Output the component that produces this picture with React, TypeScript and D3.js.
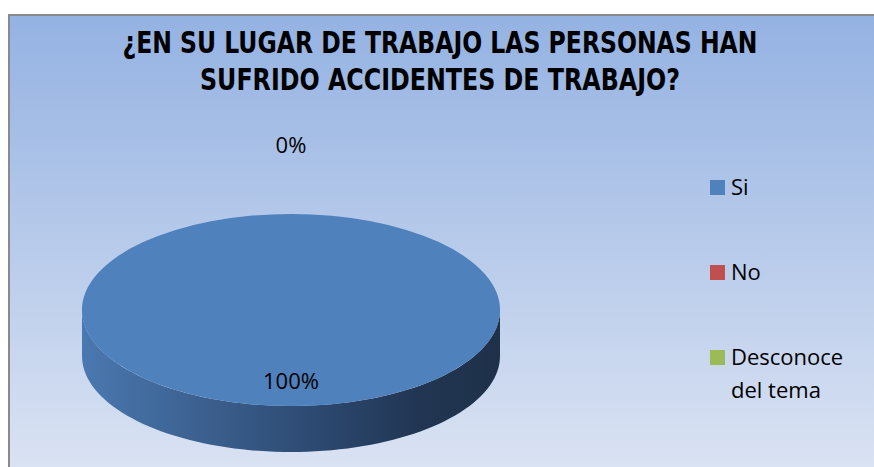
import React from "react";
import * as d3 from "d3";

const categories = ["Si", "No", "Desconoce del tema"];
const values = [100, 0, 0];
const colors = ["#4f81bd", "#c0504d", "#9bbb59"];
const titleLines = ["¿EN SU LUGAR DE TRABAJO LAS PERSONAS HAN", "SUFRIDO ACCIDENTES DE TRABAJO?"];
const legendLines = [["Si"], ["No"], ["Desconoce", "del tema"]];

const W = 874;
const H = 467;

export default function App() {
  const cx = 291;
  const cy = 310;
  const rx = 209;
  const ry = 96;
  const depth = 46;

  const pie = d3.pie<number>().sort(null).value((d) => d);
  const arcs = pie(values);
  const total = d3.sum(values);
  const fmt = d3.format(".0%");

  const arcGen = d3.arc<any>().innerRadius(0).outerRadius(rx);

  const pt = (a: number, dy = 0) => [cx + rx * Math.sin(a), cy - ry * Math.cos(a) + dy];
  const sidePath = (a0: number, a1: number) => {
    const s = Math.max(a0, Math.PI / 2);
    const e = Math.min(a1, (3 * Math.PI) / 2);
    if (e <= s) return null;
    const steps = 80;
    const p = d3.path();
    const top = d3.range(steps + 1).map((i) => pt(s + ((e - s) * i) / steps));
    const bot = top.map((_, i) => pt(s + ((e - s) * i) / steps, depth));
    p.moveTo(top[0][0], top[0][1]);
    top.forEach(([x, y]) => p.lineTo(x, y));
    for (let i = bot.length - 1; i >= 0; i--) p.lineTo(bot[i][0], bot[i][1]);
    p.closePath();
    return p.toString();
  };

  const labelPos = (a: any) => {
    const mid = (a.startAngle + a.endAngle) / 2;
    const zero = a.endAngle - a.startAngle === 0;
    const k = zero ? 1.7 : 0.76;
    return [cx + rx * k * Math.sin(mid), cy - ry * k * Math.cos(mid)];
  };

  const seenLabels = new Set<string>();

  return (
    <svg
      width={W}
      height={H}
      style={{ position: "absolute", left: 0, top: 0 }}
      fontFamily="'Open Sans', 'DejaVu Sans', sans-serif"
    >
      <defs>
        <linearGradient id="bg" x1="0" y1="0" x2="0" y2="1">
          <stop offset="0" stopColor="#94b2e2" />
          <stop offset="1" stopColor="#dfe6f4" />
        </linearGradient>
        <linearGradient id="side" x1={cx - rx} x2={cx + rx} y1="0" y2="0" gradientUnits="userSpaceOnUse">
          <stop offset="0" stopColor="#4a78b0" />
          <stop offset="0.3" stopColor="#3b5f8e" />
          <stop offset="0.55" stopColor="#2d4a72" />
          <stop offset="0.8" stopColor="#213653" />
          <stop offset="1" stopColor="#1f3149" />
        </linearGradient>
      </defs>
      <rect x={0} y={0} width={W} height={H} fill="#ffffff" />
      <rect x={9} y={15} width={W + 20} height={H + 20} fill="url(#bg)" stroke="#8a8a8a" strokeWidth={2} />

      {titleLines.map((t, i) => (
        <text
          key={i}
          x={440}
          y={53 + i * 37}
          textAnchor="middle"
          fontWeight="bold"
          fontSize={30}
          fontFamily="'Liberation Sans Narrow', 'DejaVu Sans Condensed', 'Open Sans', sans-serif"
          textLength={i === 0 ? 635 : 480}
          lengthAdjust="spacingAndGlyphs"
          fill="#000"
        >
          {t}
        </text>
      ))}

      {arcs.map((a, i) => {
        const d = sidePath(a.startAngle, a.endAngle);
        return d ? <path key={"s" + i} d={d} fill="url(#side)" /> : null;
      })}
      <g transform={`translate(${cx},${cy}) scale(1,${ry / rx})`}>
        {arcs.map((a, i) =>
          a.endAngle - a.startAngle > 0 ? <path key={"t" + i} d={arcGen(a) as string} fill={colors[i]} /> : null
        )}
      </g>

      {arcs.map((a, i) => {
        const txt = fmt(a.data / total);
        const [x, y] = labelPos(a);
        const key = `${txt}@${Math.round(x)},${Math.round(y)}`;
        if (seenLabels.has(key)) return null;
        seenLabels.add(key);
        return (
          <text key={"l" + i} x={x} y={y} textAnchor="middle" dominantBaseline="middle" fontSize={22} fill="#000">
            {txt}
          </text>
        );
      })}

      {categories.map((c, i) => {
        const sy = [180, 265, 350][i];
        return (
          <g key={c}>
            <rect x={710} y={sy} width={15} height={15} fill={colors[i]} />
            {legendLines[i].map((l, j) => (
              <text key={j} x={731} y={sy + 15 + j * 33} fontSize={22} fill="#000">
                {l}
              </text>
            ))}
          </g>
        );
      })}
    </svg>
  );
}
